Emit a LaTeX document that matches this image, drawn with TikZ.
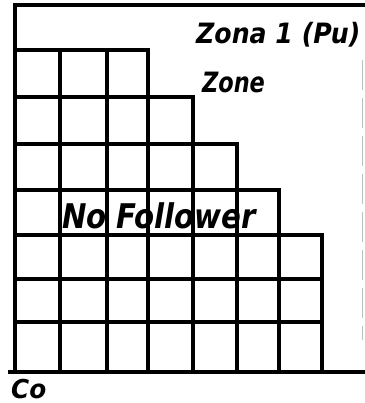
\documentclass[tikz,border=0pt]{standalone}
\usepackage{fontspec}
\setmainfont{DejaVu Sans}
\begin{document}
\begin{tikzpicture}[x=1pt,y=-1pt,
  gridline/.style={line width=3.4pt,line cap=rect},
  lbl/.style={inner sep=0pt}]
\useasboundingbox (0,0) rectangle (364,403);
% outer frame
\draw[gridline] (364,5) -- (15,5) -- (15,372);
\draw[gridline] (10,372) -- (364,372);
\draw[gray!50,line width=1pt,dash pattern=on 30pt off 8pt] (362,60) -- (362,340);
% horizontal lines
\draw[gridline] (15,50) -- (148,50);
\draw[gridline] (15,97) -- (193,97);
\draw[gridline] (15,144) -- (237,144);
\draw[gridline] (15,190) -- (279,190);
\draw[gridline] (15,235) -- (322,235);
\draw[gridline] (15,279) -- (322,279);
\draw[gridline] (15,322) -- (322,322);
% vertical lines
\draw[gridline] (60,50) -- (60,372);
\draw[gridline] (107,50) -- (107,372);
\draw[gridline] (148,50) -- (148,372);
\draw[gridline] (193,97) -- (193,372);
\draw[gridline] (237,144) -- (237,372);
\draw[gridline] (279,190) -- (279,372);
\draw[gridline] (322,235) -- (322,372);
% labels
\node[lbl,anchor=base west,xscale=0.9,font=\fontsize{28}{30}\selectfont\bfseries\itshape] (zona) at (196,44) {Zona 1 (Pu)};
\node[lbl,anchor=base west,xscale=0.8,font=\fontsize{28}{30}\selectfont\bfseries\itshape] (zone) at (202,93) {Zone};
\node[lbl,anchor=base west,xscale=0.86,font=\fontsize{34}{36}\selectfont\bfseries\itshape] (nof) at (62,228) {No Follower};
\node[lbl,anchor=base west,xscale=0.95,font=\fontsize{26}{28}\selectfont\bfseries\itshape] (co) at (11,398) {Co};
\end{tikzpicture}
\end{document}
